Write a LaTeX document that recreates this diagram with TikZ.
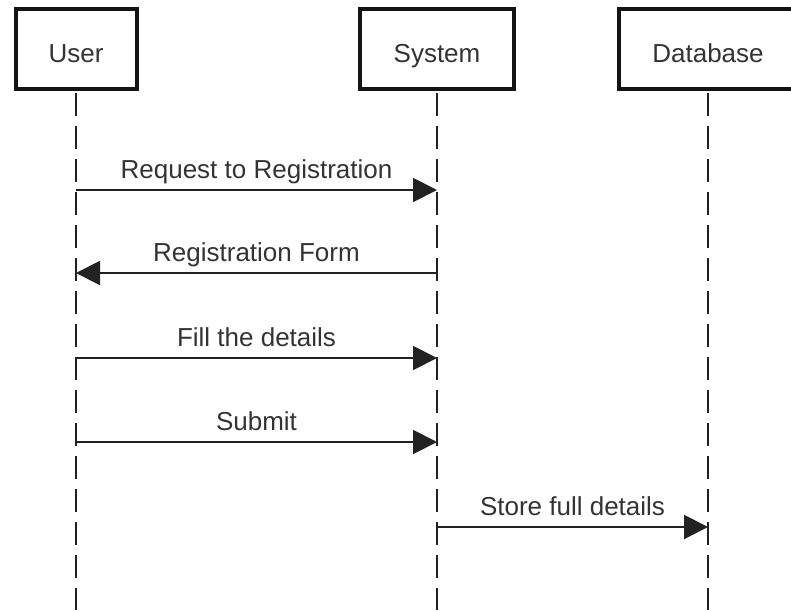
\documentclass[tikz,border=0pt]{standalone}
\usepackage{fontspec}
\setmainfont{Liberation Sans}
\usetikzlibrary{arrows.meta}
\definecolor{ink}{HTML}{222222}
\definecolor{txt}{HTML}{333333}
\begin{document}
\begin{tikzpicture}[x=1pt,y=-1pt,
  actor/.style={draw=black!92, line width=4pt, fill=white, minimum height=80pt,
    font=\fontsize{26}{30}\selectfont, text=txt, inner sep=0pt,
    text height=26pt, text depth=0pt},
  lifeline/.style={draw=ink, line width=2pt, dash pattern=on 23pt off 10pt},
  msg/.style={draw=ink, line width=2pt, -{Triangle[length=24pt,width=24pt]}},
  lbl/.style={font=\fontsize{26}{30}\selectfont, text=txt, anchor=base, inner sep=0pt, yshift=12pt}]
  \useasboundingbox (0,0) rectangle (791,610);
  \begin{scope}
    \clip (0,0) rectangle (791,610);
    % participants
    \node[actor, minimum width=121pt] (user) at (76,49) {User};
    \node[actor, minimum width=154pt] (sys) at (437,49) {System};
    \node[actor, minimum width=178pt] (db) at (708,49) {Database};
  \end{scope}
  % lifeline ends
  \coordinate (userEnd) at (76,610);
  \coordinate (sysEnd) at (437,610);
  \coordinate (dbEnd) at (708,610);
  \draw[lifeline] ([yshift=-2pt]user.south) -- (userEnd);
  \draw[lifeline] ([yshift=-2pt]sys.south) -- (sysEnd);
  \draw[lifeline] ([yshift=-2pt]db.south) -- (dbEnd);
  % message anchor points on the lifelines
  \foreach \n/\y in {a/190,b/273,c/358,d/442,e/527}{
    \coordinate (u\n) at (user.south |- 0,\y);
    \coordinate (s\n) at (sys.south |- 0,\y);
    \coordinate (d\n) at (db.south |- 0,\y);
  }
  % messages
  \draw[msg] (ua) -- node[lbl] {Request to Registration} (sa);
  \draw[msg] (sb) -- node[lbl] {Registration Form} (ub);
  \draw[msg] (uc) -- node[lbl] {Fill the details} (sc);
  \draw[msg] (ud) -- node[lbl] {Submit} (sd);
  \draw[msg] (se) -- node[lbl] {Store full details} (de);
\end{tikzpicture}
\end{document}
